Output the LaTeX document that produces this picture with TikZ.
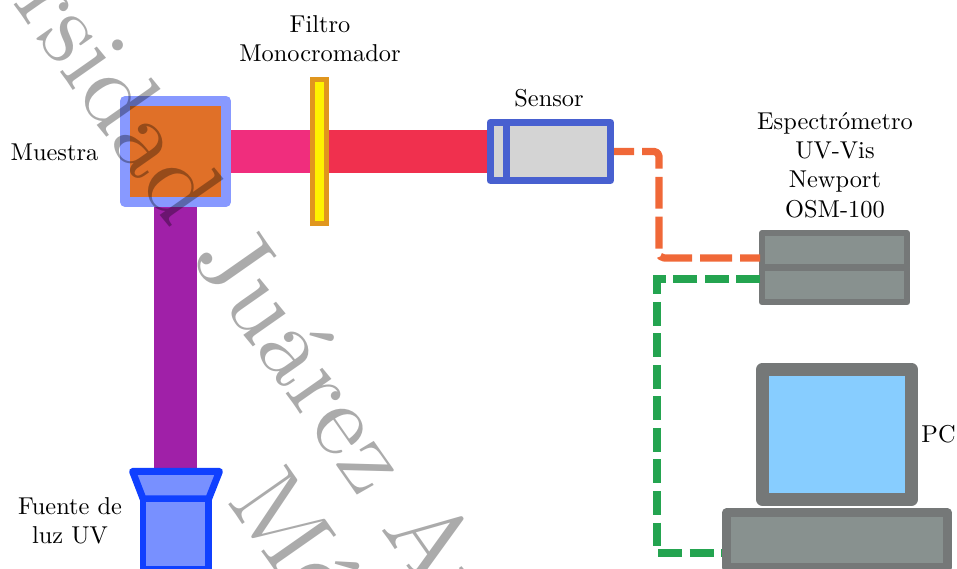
\documentclass[tikz,border=0pt]{standalone}
\usepackage{xcolor}
\usepackage{tikz}
\usetikzlibrary{backgrounds}
\definecolor{holderblue}{HTML}{8899FF}
\definecolor{sampleorange}{HTML}{E07028}
\definecolor{beampink}{HTML}{F02D7D}
\definecolor{beamred}{HTML}{F0304E}
\definecolor{beampurple}{HTML}{A020A8}
\definecolor{filterorange}{HTML}{E0961E}
\definecolor{lampblue}{HTML}{1040FF}
\definecolor{lampfill}{HTML}{7890FF}
\definecolor{sensorblue}{HTML}{4860D0}
\definecolor{caseedge}{HTML}{757878}
\definecolor{casefill}{HTML}{88918F}
\definecolor{screenblue}{HTML}{87CDFF}
\definecolor{cableorange}{HTML}{F06838}
\definecolor{cablegreen}{HTML}{24A450}

\begin{document}
\begin{tikzpicture}[
    font=\normalsize,
    line join=round,
    label/.style={align=center, inner sep=0pt},
    holder/.style={draw=holderblue, line width=0.144cm, fill=sampleorange, minimum size=1.456cm, inner sep=0pt},
    filterbar/.style={draw=filterorange, line width=0.072cm, line join=miter, fill=yellow, minimum width=0.202cm, minimum height=2.076cm, inner sep=0pt},
    sensorbox/.style={draw=sensorblue, line width=0.101cm, fill=black!17, minimum height=0.836cm, inner sep=0pt},
    lampbox/.style={draw=lampblue, line width=0.09cm, fill=lampfill, inner sep=0pt},
    casebox/.style={draw=caseedge, fill=casefill, inner sep=0pt},
    beam/.style={line width=0.62cm},
    orangecable/.style={draw=cableorange, line width=0.105cm, rounded corners=2pt, dash pattern=on 13.1pt off 3.3pt, dash phase=4.9pt},
    greencable/.style={draw=cablegreen, line width=0.105cm, line join=miter, dash pattern=on 9.83pt off 3.1pt},
    watermark/.style={text=black, text opacity=0.33, rotate=-55, scale=4.25, anchor=base west, inner sep=0pt}
]
\path[use as bounding box, clip] (0,0) rectangle (13.8,8.204);

\node[holder] (muestra) at (2.531,6.020) {};
\node[filterbar] (filtro) at (4.614,6.020) {};
\node[sensorbox, minimum width=0.238cm] (sensorcap) at (7.185,6.020) {};
\node[sensorbox, minimum width=1.500cm] (sensorbody) at (8.054,6.020) {};
\draw[lampbox, line width=0.1cm] (1.911,1.406) -- (3.165,1.406) -- (3.008,1.009) -- (2.064,1.009) -- cycle;
\node[lampbox, minimum width=0.945cm, minimum height=1.009cm] (lampbody) at (2.534,0.505) {};
\coordinate (lamptop) at (2.531,1.46);
\node[casebox, line width=0.0865cm, minimum width=2.091cm, minimum height=0.497cm] (specup) at (12.034,4.596) {};
\node[casebox, line width=0.0865cm, minimum width=2.091cm, minimum height=0.497cm] (specdown) at (12.034,4.092) {};
\node[casebox, line width=0.187cm, fill=screenblue, minimum width=2.149cm, minimum height=1.875cm] (screen) at (12.07,1.939) {};
\node[casebox, line width=0.13cm, minimum width=3.187cm, minimum height=0.793cm] (tower) at (12.07,0.411) {};

\begin{scope}[on background layer]
\draw[beam, beampink] (muestra.east) -- (filtro.west);
\draw[beam, beamred] (filtro.east) -- (sensorcap.west);
\draw[beam, beampurple] (muestra.south) -- (lamptop);
\end{scope}

\coordinate (orangebend) at (9.503,6.020);
\coordinate (orangelow) at (9.503,4.485);
\coordinate (orangeend) at (10.96,4.485);
\coordinate (greenstart) at (10.96,4.182);
\coordinate (greentop) at (9.474,4.182);
\coordinate (greenlow) at (9.474,0.231);
\coordinate (greenend) at (10.411,0.231);
\draw[orangecable] (sensorbody.east) -- (orangebend) -- (orangelow) -- (orangeend);
\draw[greencable] (greenstart) -- (greentop) -- (greenlow) -- (greenend);

\node[label] (muestralabel) at (0.786,6.013) {Muestra};
\node[label] (filtrolabel) at (4.614,7.643) {Filtro\\Monocromador};
\node[label] (sensorlabel) at (7.917,6.792) {Sensor};
\node[label] (speclabel) at (12.04,5.826) {Espectrómetro\\UV-Vis\\Newport\\OSM-100};
\node[label, anchor=west] (pclabel) at (13.28,1.947) {PC};
\node[label] (lamplabel) at (1.009,0.699) {Fuente de\\luz UV};

\node[watermark] (markone) at (0.16,8.19) {rsidad Juárez Au};
\node[watermark] (marktwo) at (3.25,1.0) {Mé};
\end{tikzpicture}
\end{document}
